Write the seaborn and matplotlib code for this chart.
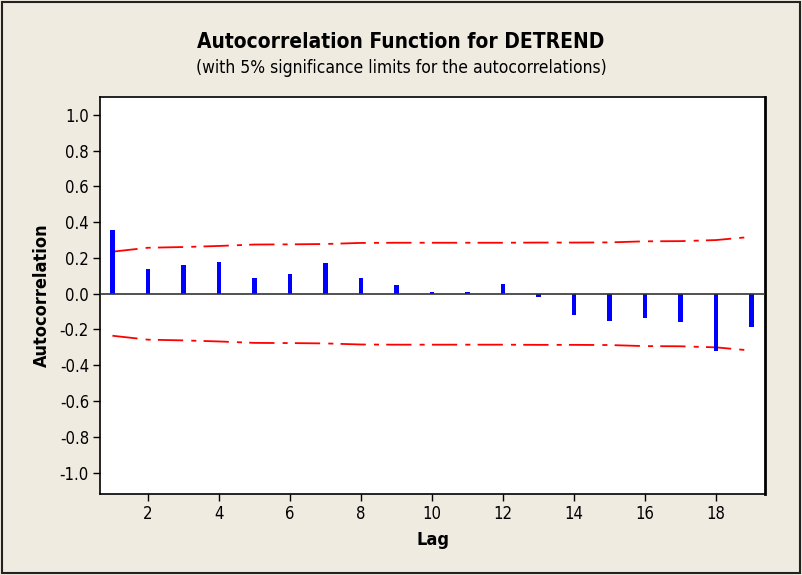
import numpy as np
import pandas as pd
import matplotlib
matplotlib.use("Agg")
import matplotlib.pyplot as plt
import seaborn as sns
from matplotlib.patches import Rectangle

lags = list(range(1, 20))
acf = [0.356, 0.137, 0.163, 0.180, 0.087, 0.113, 0.173, 0.087, 0.046, 0.008,
       0.008, 0.053, -0.018, -0.120, -0.154, -0.137, -0.160, -0.320, -0.188]
limits = [0.235, 0.257, 0.261, 0.267, 0.275, 0.276, 0.278, 0.284, 0.285, 0.285,
          0.285, 0.285, 0.286, 0.286, 0.287, 0.293, 0.294, 0.300, 0.318]
yticks = [-1.0, -0.8, -0.6, -0.4, -0.2, 0.0, 0.2, 0.4, 0.6, 0.8, 1.0]
xticks = [2, 4, 6, 8, 10, 12, 14, 16, 18]

sns.set_style("white")
font = ["DejaVu Sans", "Liberation Sans"]
plt.rcParams["font.family"] = font
plt.rcParams["font.stretch"] = "condensed"
plt.rcParams["text.color"] = "black"
plt.rcParams["axes.labelcolor"] = "black"
plt.rcParams["xtick.color"] = "black"
plt.rcParams["ytick.color"] = "black"

bg = "#EFEBE1"
fig = plt.figure(figsize=(8.02, 5.75), dpi=100, facecolor=bg)
ax = fig.add_axes([100/802, 1-494/575, 665/802, 397/575])
ax.set_facecolor("white")

df = pd.DataFrame({"Lag": lags, "ACF": acf, "UCL": limits,
                   "LCL": [-v for v in limits]})

sns.barplot(data=df, x="Lag", y="ACF", native_scale=True, width=0.12,
            color="#0000FF", saturation=1, linewidth=0, ax=ax, zorder=3)
ax.axhline(0, color="#333333", lw=1.2, zorder=4)
dash = (0, (14, 4.5, 2.8, 4))
sns.lineplot(data=df, x="Lag", y="UCL", color="#FF0000", lw=1.3,
             linestyle=dash, ax=ax, zorder=2)
sns.lineplot(data=df, x="Lag", y="LCL", color="#FF0000", lw=1.3,
             linestyle=dash, ax=ax, zorder=2)

ax.set_xlim(0.65, 19.38)
ax.set_ylim(-1.12, 1.10)
ax.set_xticks(xticks)
ax.set_xticklabels([str(t) for t in xticks], fontsize=12)
ax.set_yticks(yticks)
ax.set_yticklabels([f"{t:.1f}" for t in yticks], fontsize=12)
ax.tick_params(axis="both", direction="out", length=5, width=1, color="black",
               labelcolor="black", left=True, bottom=True, pad=3)
for s in ax.spines.values():
    s.set_color("black")
    s.set_linewidth(1.2)
ax.spines["right"].set_linewidth(2)

ax.set_xlabel("Lag", fontsize=13, fontweight="bold", labelpad=6, color="black")
ax.set_ylabel("Autocorrelation", fontsize=13, fontweight="bold", labelpad=6,
              color="black")

fig.text(0.5, 1-42/575, "Autocorrelation Function for DETREND", ha="center",
         va="center", fontsize=15, fontweight="bold", color="black")
fig.text(0.5, 1-68/575, "(with 5% significance limits for the autocorrelations)",
         ha="center", va="center", fontsize=12.5, color="black")

fig.patches.append(Rectangle((0.002, 0.003), 0.996, 0.994, transform=fig.transFigure,
                             fill=False, edgecolor="#222222", lw=1.5))

fig.savefig("out.png", dpi=100, facecolor=bg)
